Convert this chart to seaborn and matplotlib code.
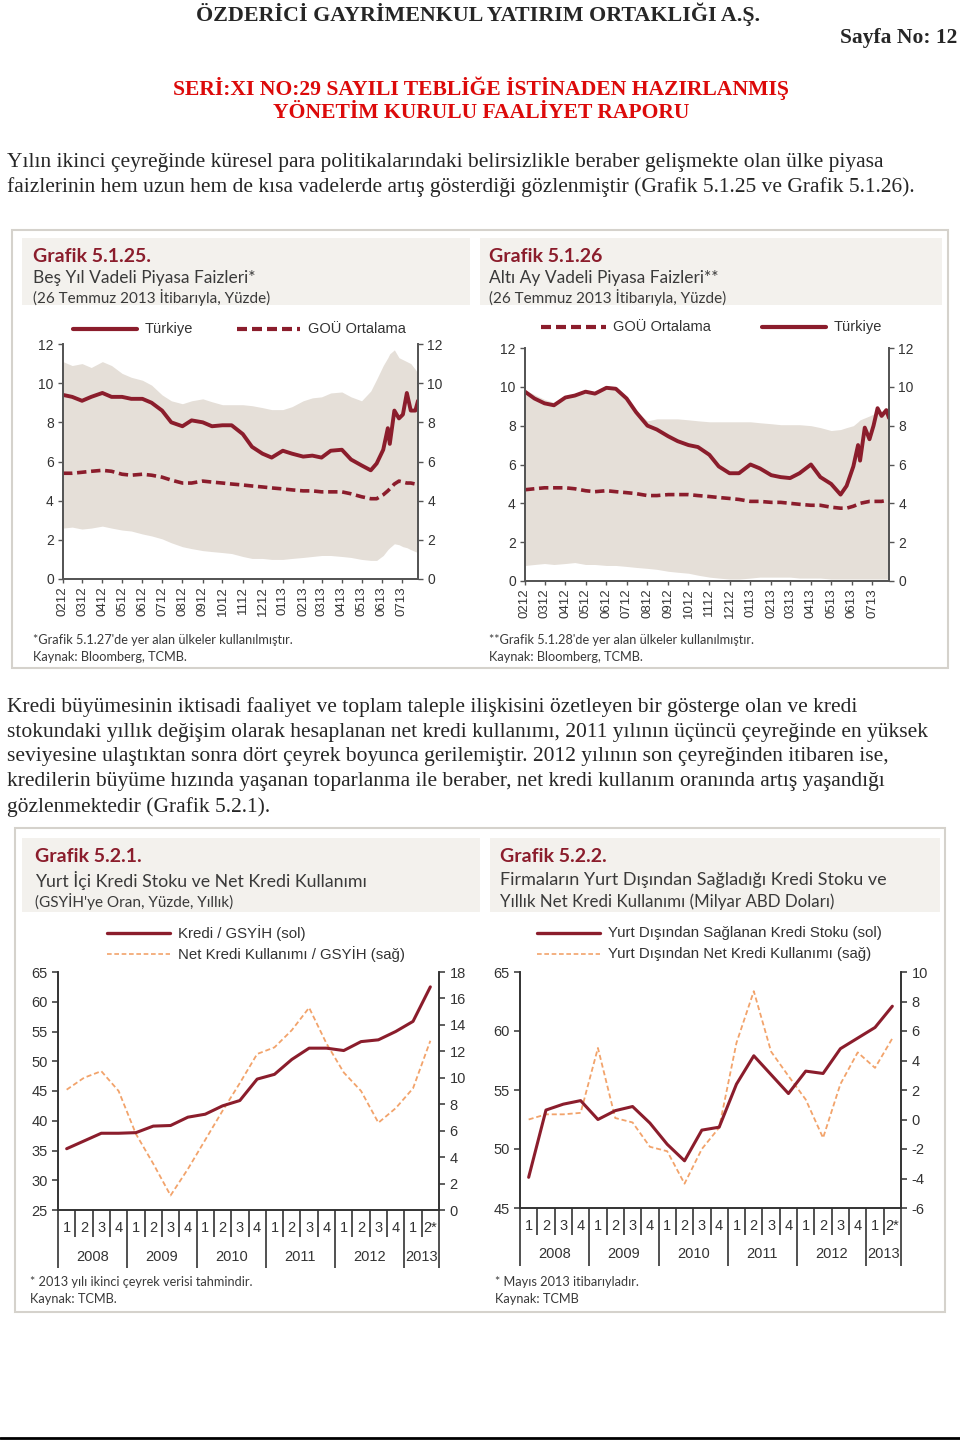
import numpy as np
import pandas as pd
import matplotlib
matplotlib.use("Agg")
import matplotlib.pyplot as plt
import matplotlib.dates as mdates
from matplotlib.lines import Line2D
from matplotlib.patches import Rectangle
from matplotlib.ticker import NullFormatter
from matplotlib.transforms import blended_transform_factory
import seaborn as sns

sns.set_style("ticks")
plt.rcParams["font.family"] = ["Liberation Sans", "DejaVu Sans"]
plt.rcParams["axes.unicode_minus"] = False

W, H = 960, 1440
RED = "#8b1d2c"
HDR_RED = "#dc0a0a"
ORANGE = "#f2a36b"
BAND = "#e5dfd8"
HEAD_BG = "#f3f1ed"
FRAME = "#d5d2cc"
TXT = "#333333"
SUB = "#3a3a3a"
SERIF = ["Liberation Serif", "DejaVu Serif"]
GEO = ["Lato", "DejaVu Sans"]

# --- Grafik 5.1.25 / 5.1.26 : market rates (semi-monthly + extra points in Jun-Jul 2013)
rate_dates = pd.date_range("2012-02-01", "2013-05-15", freq="SMS").append(pd.to_datetime([
    "2013-05-24", "2013-06-03", "2013-06-10", "2013-06-13", "2013-06-20", "2013-06-27",
    "2013-07-03", "2013-07-09", "2013-07-15", "2013-07-22", "2013-07-26"]))

tr_5y = [9.4, 9.3, 9.1, 9.3, 9.5, 9.3, 9.3, 9.2, 9.2, 9.0, 8.6, 8.0, 7.8, 8.1, 8.0, 7.8,
         7.85, 7.85, 7.4, 6.75, 6.4, 6.2, 6.55, 6.4, 6.25, 6.3, 6.2, 6.55, 6.6, 6.1, 5.8, 5.55,
         5.9, 6.6, 7.7, 6.9, 8.6, 8.2, 8.4, 9.5, 8.6, 8.6, 9.1]
gou_5y = [5.4, 5.4, 5.45, 5.5, 5.55, 5.5, 5.35, 5.3, 5.35, 5.3, 5.2, 5.05, 4.9, 4.9, 5.0, 4.95,
          4.9, 4.85, 4.8, 4.75, 4.7, 4.65, 4.6, 4.55, 4.5, 4.5, 4.45, 4.45, 4.45, 4.35, 4.2, 4.1,
          4.1, 4.3, 4.5, 4.6, 4.85, 5.0, 4.95, 4.9, 4.9, 4.85, 4.85]
up_5y = [11.1, 10.9, 11.0, 10.8, 11.1, 10.9, 10.5, 10.3, 10.15, 9.9, 9.4, 9.1, 8.95, 9.1, 9.2, 9.05,
         8.9, 8.9, 8.9, 8.85, 8.75, 8.65, 8.65, 8.8, 9.1, 9.25, 9.3, 9.5, 9.55, 9.3, 9.1, 9.6,
         10.2, 10.9, 11.3, 11.5, 11.7, 11.3, 11.2, 11.1, 11.0, 10.7, 10.5]
lo_5y = [2.6, 2.65, 2.55, 2.6, 2.7, 2.6, 2.5, 2.45, 2.3, 2.2, 2.05, 1.85, 1.65, 1.55, 1.45, 1.4,
         1.35, 1.3, 1.15, 1.05, 1.05, 1.0, 1.0, 1.05, 1.1, 1.15, 1.2, 1.2, 1.15, 1.1, 1.0, 0.95,
         0.95, 1.2, 1.5, 1.6, 1.8, 1.75, 1.65, 1.6, 1.5, 1.4, 1.35]

tr_6m = [9.75, 9.4, 9.15, 9.05, 9.45, 9.55, 9.75, 9.65, 9.95, 9.9, 9.4, 8.7, 8.0, 7.8, 7.45, 7.2,
         7.0, 6.9, 6.5, 5.9, 5.55, 5.55, 6.0, 5.8, 5.45, 5.35, 5.3, 5.55, 6.0, 5.35, 5.0, 4.45,
         4.9, 5.9, 7.0, 6.2, 7.9, 7.3, 8.0, 8.9, 8.5, 8.8, 8.4]
gou_6m = [4.7, 4.75, 4.8, 4.8, 4.8, 4.75, 4.65, 4.6, 4.65, 4.6, 4.55, 4.5, 4.4, 4.4, 4.45, 4.45,
          4.45, 4.4, 4.35, 4.3, 4.25, 4.2, 4.1, 4.1, 4.05, 4.05, 4.0, 3.95, 3.9, 3.9, 3.8, 3.75,
          3.75, 3.85, 3.95, 4.0, 4.05, 4.1, 4.1, 4.1, 4.1, 4.15, 4.15]
up_6m = [9.85, 9.6, 9.35, 9.2, 9.55, 9.65, 9.8, 9.7, 10.0, 9.95, 9.45, 8.75, 8.25, 8.35, 8.35, 8.35,
         8.3, 8.25, 8.2, 8.2, 8.2, 8.2, 8.2, 8.15, 8.1, 8.05, 8.05, 8.05, 8.0, 7.9, 7.75, 7.8,
         7.9, 8.0, 8.2, 8.3, 8.4, 8.5, 8.6, 8.75, 8.75, 8.75, 8.7]
lo_6m = [0.8, 0.85, 0.9, 0.85, 0.9, 0.95, 0.85, 0.85, 0.8, 0.8, 0.75, 0.7, 0.65, 0.6, 0.5, 0.45,
         0.4, 0.3, 0.2, 0.15, 0.1, 0.1, 0.15, 0.2, 0.2, 0.2, 0.2, 0.15, 0.15, 0.15, 0.1, 0.1,
         0.1, 0.1, 0.1, 0.1, 0.1, 0.1, 0.1, 0.1, 0.1, 0.1, 0.1]

# --- Grafik 5.2.1 / 5.2.2 : quarterly credit data 2008Q1-2013Q2
quarter_labels = ["1", "2", "3", "4"] * 5 + ["1", "2*"]
years = ["2008", "2009", "2010", "2011", "2012", "2013"]
year_sizes = [4, 4, 4, 4, 4, 2]

kredi_gsyih = [35.3, 36.6, 37.9, 37.9, 38.0, 39.1, 39.2, 40.6, 41.1, 42.5, 43.4, 47.0,
               47.8, 50.3, 52.2, 52.2, 51.8, 53.3, 53.6, 55.0, 56.7, 62.5]
net_kredi_gsyih = [9.1, 10.0, 10.5, 9.0, 5.75, 3.5, 1.1, 3.1, 5.3, 7.5, 9.6, 11.8,
                   12.3, 13.6, 15.3, 12.6, 10.4, 9.0, 6.6, 7.7, 9.2, 12.8]
dis_kredi_stok = [47.6, 53.3, 53.8, 54.1, 52.5, 53.25, 53.6, 52.2, 50.4, 49.0, 51.6, 51.85,
                  55.5, 57.9, 56.3, 54.7, 56.6, 56.4, 58.5, 59.4, 60.3, 62.1]
dis_net_kredi = [0.0, 0.35, 0.35, 0.45, 4.85, 0.1, -0.2, -1.85, -2.15, -4.35, -2.0, -0.55,
                 5.2, 8.7, 4.6, 2.95, 1.35, -1.25, 2.4, 4.55, 3.5, 5.5]

fig = plt.figure(figsize=(9.6, 14.4), dpi=100)


def fx(x):
    return x / W


def fy(y):
    return 1 - y / H


def text(x, y, s, **kw):
    kw.setdefault("va", "center")
    fig.text(fx(x), fy(y), s, **kw)


def box(x0, y0, x1, y1, **kw):
    fig.add_artist(Rectangle((fx(x0), fy(y1)), (x1 - x0) / W, (y1 - y0) / H,
                             transform=fig.transFigure, zorder=0, **kw))


def key(x0, x1, y, **kw):
    fig.add_artist(Line2D([fx(x0), fx(x1)], [fy(y), fy(y)], transform=fig.transFigure, **kw))


def panel(x0, y0, x1, y1):
    return fig.add_axes([fx(x0), fy(y1), (x1 - x0) / W, (y1 - y0) / H])


def style_spines(ax, color="#555555", lw=1.3):
    ax.spines["top"].set_visible(False)
    for s in ["left", "right", "bottom"]:
        ax.spines[s].set_color(color)
        ax.spines[s].set_linewidth(lw)
    ax.set_xlabel("")
    ax.set_ylabel("")


def rate_panel(ax, tr, gou, up, lo):
    ax.fill_between(rate_dates, lo, up, color=BAND, lw=0, zorder=1)
    sns.lineplot(x=rate_dates, y=gou, ax=ax, color=RED, lw=2.6, zorder=3)
    ax.lines[-1].set_dashes([2.6, 1.3])
    sns.lineplot(x=rate_dates, y=tr, ax=ax, color=RED, lw=2.8, zorder=4)
    ax.set_xlim(rate_dates[0], rate_dates[-1])
    ax.set_ylim(0, 12)
    ax.set_yticks(range(0, 13, 2))
    ax.xaxis.set_major_locator(mdates.MonthLocator())
    ax.xaxis.set_major_formatter(mdates.DateFormatter("%m%y"))
    ax.tick_params(axis="x", labelrotation=90, length=3, width=1, color="#555555",
                   labelcolor=TXT, labelsize=9.5, pad=2)
    ax.tick_params(axis="y", length=3.6, width=1, color="#555555", labelcolor=TXT,
                   labelsize=10, pad=3)
    style_spines(ax)
    ax2 = ax.twinx()
    ax2.set_ylim(0, 12)
    ax2.set_yticks(range(0, 13, 2))
    ax2.tick_params(axis="y", length=3.6, width=1, color="#555555", labelcolor=TXT,
                    labelsize=10, pad=3)
    style_spines(ax2)


def credit_panel(ax, left, right, lim_l, step_l, lim_r, step_r):
    pos = np.arange(len(quarter_labels))
    ax2 = ax.twinx()
    sns.lineplot(x=pos, y=right, ax=ax2, color=ORANGE, lw=1.3, linestyle="--")
    ax2.lines[-1].set_dashes([2.8, 1.6])
    sns.lineplot(x=pos, y=left, ax=ax, color=RED, lw=2.2)
    ax.set_zorder(ax2.get_zorder() + 1)
    ax.patch.set_visible(False)
    ax.set_xlim(-0.5, len(pos) - 0.5)
    ax.set_ylim(*lim_l)
    ax.set_yticks(np.arange(lim_l[0], lim_l[1] + 1, step_l))
    ax2.set_ylim(*lim_r)
    ax2.set_yticks(np.arange(lim_r[0], lim_r[1] + 1, step_r))
    bounds = np.cumsum([0] + year_sizes) - 0.5
    ax.set_xticks(bounds)
    ax.set_xticks(np.arange(-0.5, len(pos), 1), minor=True)
    ax.xaxis.set_major_formatter(NullFormatter())
    ax.tick_params(axis="x", which="major", length=42, width=1.1, color="#222222")
    ax.tick_params(axis="x", which="minor", length=19.5, width=1.1, color="#222222")
    for a in (ax, ax2):
        a.tick_params(axis="y", length=4.5, width=1.1, color="#333333", labelcolor=TXT,
                      labelsize=10.5, pad=3)
        style_spines(a, color="#333333", lw=1.2)
    tr = blended_transform_factory(ax.transData, ax.transAxes)
    for i, q in enumerate(quarter_labels):
        ax.text(pos[i], -0.076, q, transform=tr, ha="center", va="center", size=10.5, color=TXT)
    for yr, a, b in zip(years, bounds[:-1], bounds[1:]):
        ax.text((a + b) / 2, -0.197, yr, transform=tr, ha="center", va="center",
                size=10.5, color=TXT)


# ---------------- page header ----------------
text(478, 14, "ÖZDERİCİ GAYRİMENKUL YATIRIM ORTAKLIĞI A.Ş.", ha="center",
     family=SERIF, weight="bold", size=15.8)
text(957, 38, "Sayfa No: 12", ha="right", family=SERIF, weight="bold", size=15.5)
text(481, 88, "SERİ:XI NO:29 SAYILI TEBLİĞE İSTİNADEN HAZIRLANMIŞ", ha="center",
     family=SERIF, weight="bold", size=15.6, color=HDR_RED)
text(481, 113, "YÖNETİM KURULU FAALİYET RAPORU", ha="center",
     family=SERIF, weight="bold", size=15.6, color=HDR_RED)

para1 = ["Yılın ikinci çeyreğinde küresel para politikalarındaki belirsizlikle beraber gelişmekte olan ülke piyasa",
         "faizlerinin hem uzun hem de kısa vadelerde artış gösterdiği gözlenmiştir (Grafik 5.1.25 ve Grafik 5.1.26)."]
for i, line in enumerate(para1):
    text(7, 162 + 25 * i, line, family=SERIF, size=15.5)

para2 = ["Kredi büyümesinin iktisadi faaliyet ve toplam taleple ilişkisini özetleyen bir gösterge olan ve kredi",
         "stokundaki yıllık değişim olarak hesaplanan net kredi kullanımı, 2011 yılının üçüncü çeyreğinde en yüksek",
         "seviyesine ulaştıktan sonra dört çeyrek boyunca gerilemiştir. 2012 yılının son çeyreğinden itibaren ise,",
         "kredilerin büyüme hızında yaşanan toparlanma ile beraber, net kredi kullanım oranında artış yaşandığı",
         "gözlenmektedir (Grafik 5.2.1)."]
for i, line in enumerate(para2):
    text(7, 707 + 25 * i, line, family=SERIF, size=15.5)

key(0, 960, 1438, color="black", lw=2)

# ---------------- block 1: rates ----------------
box(12, 230, 948, 668, facecolor="white", edgecolor=FRAME, lw=1.5)
box(22, 238, 470, 305, facecolor=HEAD_BG, edgecolor="none")
box(480, 238, 942, 305, facecolor=HEAD_BG, edgecolor="none")

for x0, num, sub in [(33, "Grafik 5.1.25.", "Beş Yıl Vadeli Piyasa Faizleri*"),
                     (489, "Grafik 5.1.26", "Altı Ay Vadeli Piyasa Faizleri**")]:
    text(x0, 256, num, family=GEO, weight="bold", size=14, color=RED)
    text(x0, 278, sub, family=GEO, size=12.5, color=SUB)
    text(x0, 298, "(26 Temmuz 2013 İtibarıyla, Yüzde)", family=GEO, size=11, color=SUB)

key(73, 137, 329, color=RED, lw=3)
text(145, 329, "Türkiye", size=10.5, color=TXT)
key(237, 300, 329, color=RED, lw=3, dashes=[2.4, 1.2])
text(308, 329, "GOÜ Ortalama", size=10.5, color=TXT)
key(541, 606, 327, color=RED, lw=3, dashes=[2.4, 1.2])
text(613, 327, "GOÜ Ortalama", size=10.5, color=TXT)
key(762, 826, 327, color=RED, lw=3)
text(834, 327, "Türkiye", size=10.5, color=TXT)

rate_panel(panel(63, 344, 418, 579), tr_5y, gou_5y, up_5y, lo_5y)
rate_panel(panel(525, 348, 889, 581), tr_6m, gou_6m, up_6m, lo_6m)

text(33, 640, "*Grafik 5.1.27'de yer alan ülkeler kullanılmıştır.", family=GEO, size=9.2, color=SUB)
text(33, 657, "Kaynak: Bloomberg, TCMB.", family=GEO, size=9.2, color=SUB)
text(489, 640, "**Grafik 5.1.28'de yer alan ülkeler kullanılmıştır.", family=GEO, size=9.2, color=SUB)
text(489, 657, "Kaynak: Bloomberg, TCMB.", family=GEO, size=9.2, color=SUB)

# ---------------- block 2: credit ----------------
box(15, 828, 945, 1312, facecolor="white", edgecolor=FRAME, lw=1.5)
box(22, 838, 480, 912, facecolor=HEAD_BG, edgecolor="none")
box(490, 838, 940, 912, facecolor=HEAD_BG, edgecolor="none")

text(35, 857, "Grafik 5.2.1.", family=GEO, weight="bold", size=14, color=RED)
text(35, 880, "Yurt İçi Kredi Stoku ve Net Kredi Kullanımı", family=GEO, size=12.8, color=SUB)
text(35, 902, "(GSYİH'ye Oran, Yüzde, Yıllık)", family=GEO, size=11, color=SUB)
text(500, 857, "Grafik 5.2.2.", family=GEO, weight="bold", size=14, color=RED)
text(500, 880, "Firmaların Yurt Dışından Sağladığı Kredi Stoku ve", family=GEO, size=13, color=SUB)
text(500, 902, "Yıllık Net Kredi Kullanımı (Milyar ABD Doları)", family=GEO, size=12.2, color=SUB)

key(107, 170, 933, color=RED, lw=2.4)
text(178, 933, "Kredi / GSYİH (sol)", size=10.8, color=TXT)
key(107, 170, 954, color=ORANGE, lw=1.2, dashes=[2.8, 1.6])
text(178, 954, "Net Kredi Kullanımı / GSYİH (sağ)", size=10.8, color=TXT)
key(537, 600, 933, color=RED, lw=2.4)
text(608, 933, "Yurt Dışından Sağlanan Kredi Stoku (sol)", size=10.8, color=TXT)
key(537, 600, 954, color=ORANGE, lw=1.2, dashes=[2.8, 1.6])
text(608, 954, "Yurt Dışından Net Kredi Kullanımı (sağ)", size=10.8, color=TXT)

credit_panel(panel(58, 972, 439, 1210), kredi_gsyih, net_kredi_gsyih, (25, 65), 5, (0, 18), 2)
credit_panel(panel(520, 972, 901, 1208), dis_kredi_stok, dis_net_kredi, (45, 65), 5, (-6, 10), 2)

text(30, 1282, "* 2013 yılı ikinci çeyrek verisi tahmindir.", family=GEO, size=9.2, color=SUB)
text(30, 1299, "Kaynak: TCMB.", family=GEO, size=9.2, color=SUB)
text(495, 1282, "* Mayıs 2013 itibarıyladır.", family=GEO, size=9.2, color=SUB)
text(495, 1299, "Kaynak: TCMB", family=GEO, size=9.2, color=SUB)

fig.savefig("out.png", dpi=100, facecolor="white")
